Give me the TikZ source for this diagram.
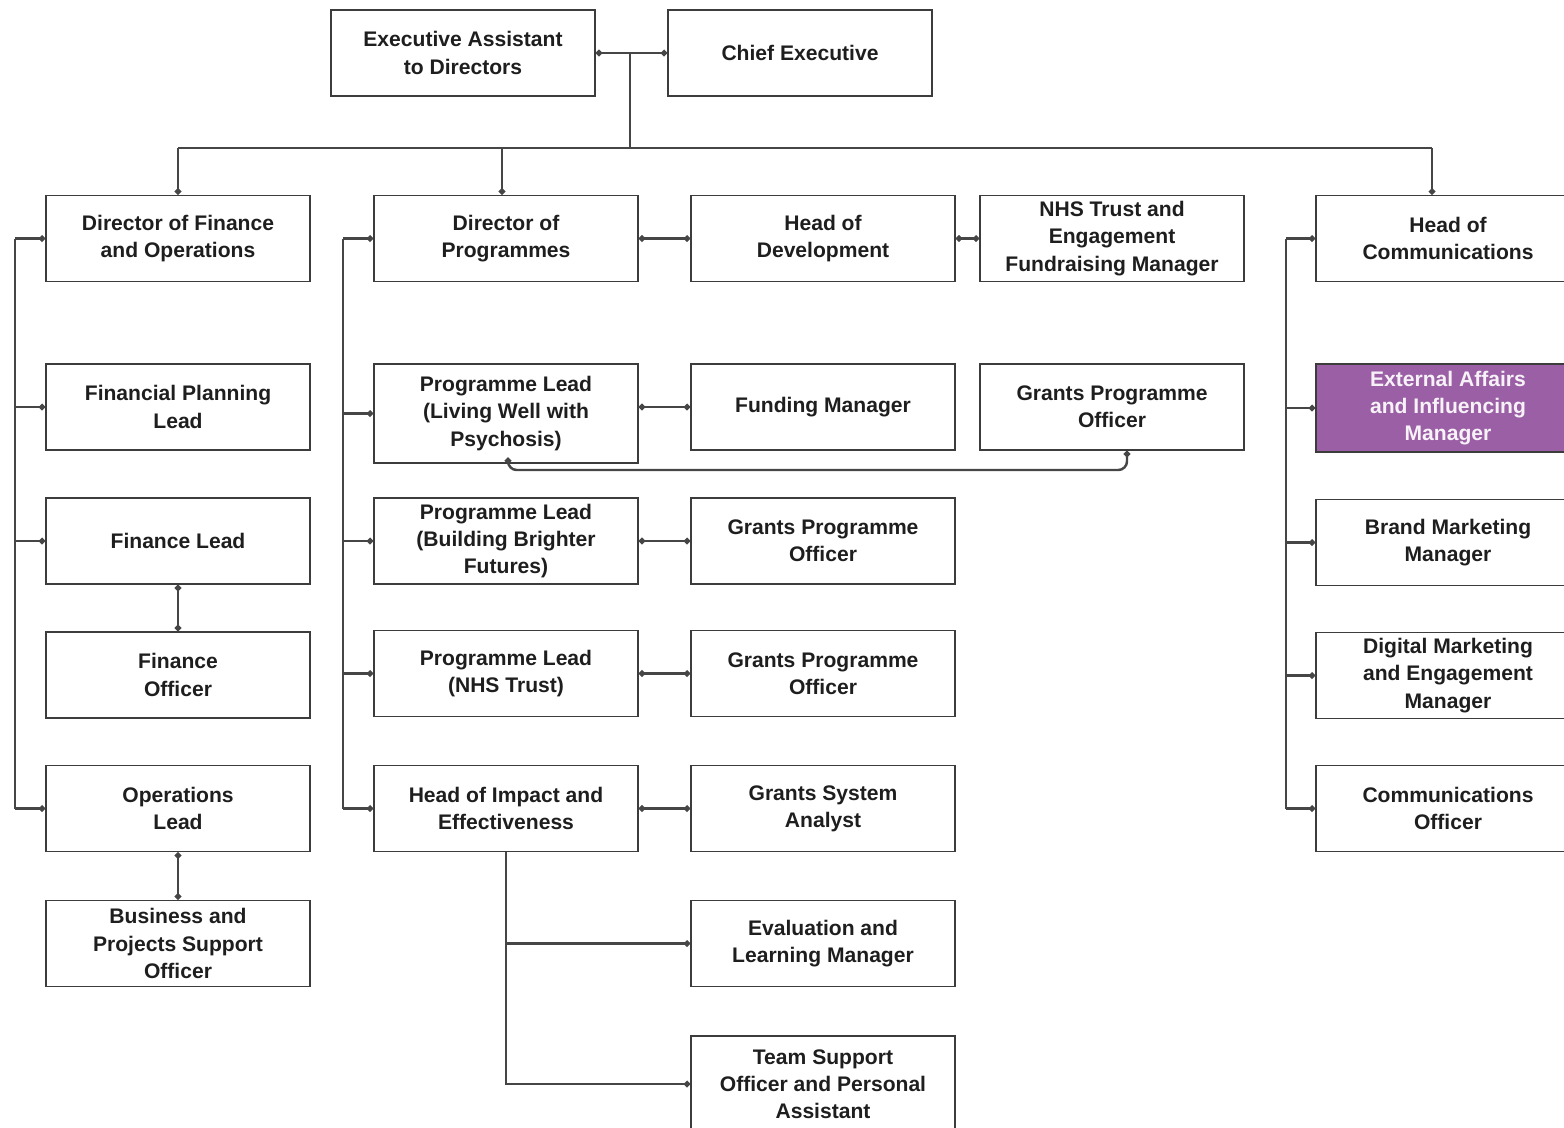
\documentclass[tikz,border=0pt]{standalone}
\usepackage{fontspec}
\setmainfont{Liberation Sans}
\usetikzlibrary{arrows.meta}
\definecolor{boxline}{RGB}{60,60,60}
\definecolor{wire}{RGB}{70,70,70}
\definecolor{inktext}{RGB}{30,30,30}
\definecolor{highlight}{RGB}{155,95,165}
\begin{document}
\begin{tikzpicture}[x=0.02cm,y=-0.02cm,
    role/.style={draw=boxline,line width=1pt,rectangle,minimum width=5.28cm,
      minimum height=1.72cm,inner sep=0pt,align=center,text=inktext,
      font=\bfseries\fontsize{12}{15.5}\selectfont},
    marked/.style={role,fill=highlight,text=white!92!highlight},
    line/.style={draw=wire,line width=1.4pt},
    link/.style={line,-{Circle[length=3.5pt]}},
    blink/.style={line,{Circle[length=3.5pt]}-{Circle[length=3.5pt]}}]
      \clip (0,0) rectangle (1564,1127);
      % top row
      \node[role] (ea) at (463,53) {Executive Assistant\\to Directors};
      \node[role] (ce) at (800,53) {Chief Executive};
      % heads
      \node[role] (dfo) at (178,238.5) {Director of Finance\\and Operations};
      \node[role] (dop) at (506,238.5) {Director of\\Programmes};
      \node[role] (hod) at (823,238.5) {Head of\\Development};
      \node[role] (nhs) at (1112,238.5) {NHS Trust and\\Engagement\\Fundraising Manager};
      \node[role] (hoc) at (1448,238.5) {Head of\\Communications};
      % finance
      \node[role] (fpl) at (178,407) {Financial Planning\\Lead};
      \node[role] (fl) at (178,541) {Finance Lead};
      \node[role] (fo) at (178,675) {Finance\\Officer};
      \node[role] (ol) at (178,808.5) {Operations\\Lead};
      \node[role] (bpso) at (178,943.5) {Business and\\Projects Support\\Officer};
      % programmes
      \node[role,minimum height=1.98cm] (pl1) at (506,413.5) {Programme Lead\\(Living Well with\\Psychosis)};
      \node[role] (fm) at (823,407) {Funding Manager};
      \node[role] (gpo) at (1112,407) {Grants Programme\\Officer};
      \node[role] (pl2) at (506,541) {Programme Lead\\(Building Brighter\\Futures)};
      \node[role] (gpo2) at (823,541) {Grants Programme\\Officer};
      \node[role] (pl3) at (506,673.5) {Programme Lead\\(NHS Trust)};
      \node[role] (gpo3) at (823,673.5) {Grants Programme\\Officer};
      \node[role] (hie) at (506,808.5) {Head of Impact and\\Effectiveness};
      \node[role] (gsa) at (823,808.5) {Grants System\\Analyst};
      \node[role] (elm) at (823,943.5) {Evaluation and\\Learning Manager};
      \node[role,minimum height=1.92cm] (tso) at (823,1084) {Team Support\\Officer and Personal\\Assistant};
      % communications
      \node[marked,minimum height=1.76cm] (eaim) at (1448,408) {External Affairs\\and Influencing\\Manager};
      \node[role] (bmm) at (1448,542.5) {Brand Marketing\\Manager};
      \node[role] (dmem) at (1448,675.5) {Digital Marketing\\and Engagement\\Manager};
      \node[role] (co) at (1448,808.5) {Communications\\Officer};

      % top links
      \draw[blink] (ea.east) -- (ce.west);
      \draw[line] (630,0 |- ea.east) -- (630,148);
      \draw[line] (178,148) -- (1432,148);
      \draw[link] (178,148) -- (dfo.north);
      \draw[link] (502,148) -- (502,0 |- dop.north);
      \draw[link] (1432,148) -- (1432,0 |- hoc.north);
      % finance column
      \draw[line] (15,0 |- dfo.west) -- (15,0 |- ol.west);
      \foreach \n in {dfo,fpl,fl,ol}
        \draw[link] (15,0 |- \n.west) -- (\n.west);
      \draw[blink] (fl.south) -- (fo.north);
      \draw[blink] (ol.south) -- (bpso.north);
      % programmes column
      \draw[line] (343,0 |- dop.west) -- (343,0 |- hie.west);
      \foreach \n in {dop,pl1,pl2,pl3,hie}
        \draw[link] (343,0 |- \n.west) -- (\n.west);
      \draw[blink] (dop.east) -- (hod.west);
      \draw[blink] (hod.east) -- (nhs.west);
      \draw[blink] (pl1.east |- fm.west) -- (fm.west);
      \draw[blink] (pl2.east) -- (gpo2.west);
      \draw[blink] (pl3.east) -- (gpo3.west);
      \draw[blink] (hie.east) -- (gsa.west);
      \draw[blink,rounded corners=5pt] (1127,0 |- gpo.south) -- (1127,470) -- (508,470) -- (508,0 |- pl1.south);
      \draw[link] (hie.south) |- (tso.west);
      \draw[link] (hie.south |- elm.west) -- (elm.west);
      % communications column
      \draw[line] (1286,0 |- hoc.west) -- (1286,0 |- co.west);
      \foreach \n in {hoc,eaim,bmm,dmem,co}
        \draw[link] (1286,0 |- \n.west) -- (\n.west);
\end{tikzpicture}
\end{document}
